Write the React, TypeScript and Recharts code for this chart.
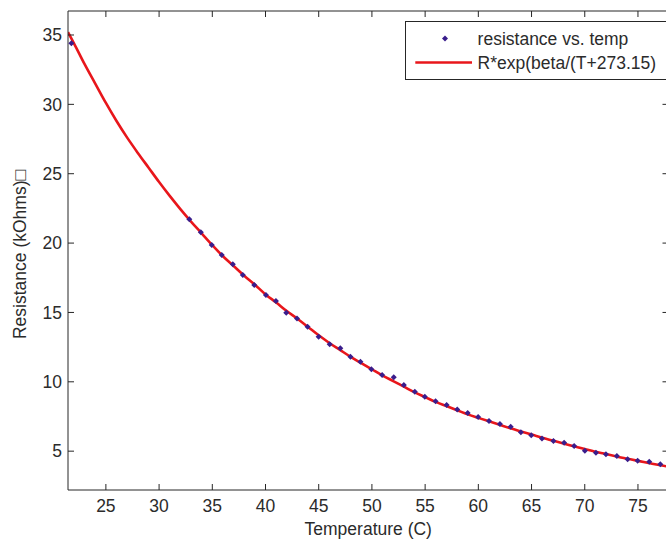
import React from 'react';
import { ComposedChart, Line, Scatter, XAxis, YAxis, Legend } from 'recharts';

const measTemps = [21.76, 32.84, 33.92, 34.95, 35.89, 36.93, 37.87, 38.94, 40.04, 40.98, 41.95, 42.96, 43.95, 44.99, 46.03, 47.03, 47.98, 48.92, 49.95, 50.96, 52.05, 53.0, 54.03, 54.97, 55.98, 57.02, 58.02, 59.0, 59.98, 61.0, 62.03, 63.04, 64.0, 64.97, 65.98, 67.06, 68.06, 69.0, 70.01, 71.05, 71.99, 73.02, 74.03, 74.97, 76.06, 77.1];
const measValues = [34.4, 21.71, 20.78, 19.86, 19.14, 18.47, 17.7, 16.98, 16.25, 15.82, 14.98, 14.57, 13.97, 13.25, 12.7, 12.41, 11.81, 11.45, 10.9, 10.49, 10.32, 9.77, 9.28, 8.92, 8.6, 8.32, 8.01, 7.75, 7.46, 7.17, 6.95, 6.76, 6.36, 6.14, 5.92, 5.73, 5.61, 5.37, 5.03, 4.88, 4.77, 4.65, 4.41, 4.31, 4.24, 4.05];

const fitTemps = [21.44, 22, 23, 24, 25, 26, 27, 28, 29, 30, 31, 32, 33, 34, 35, 36, 37, 38, 39, 40, 41, 42, 43, 44, 45, 46, 47, 48, 49, 50, 51, 52, 53, 54, 55, 56, 57, 58, 59, 60, 61, 62, 63, 64, 65, 66, 67, 68, 69, 70, 71, 72, 73, 74, 75, 76, 77, 77.9];
const fitValues = [35.2, 34.4, 32.9, 31.5, 30.1, 28.8, 27.6, 26.5, 25.45, 24.4, 23.4, 22.45, 21.55, 20.7, 19.85, 19.05, 18.35, 17.65, 17.0, 16.3, 15.72, 15.1, 14.55, 13.95, 13.35, 12.8, 12.3, 11.8, 11.35, 10.9, 10.45, 10.05, 9.65, 9.25, 8.9, 8.55, 8.25, 7.95, 7.65, 7.4, 7.15, 6.9, 6.65, 6.42, 6.2, 5.97, 5.76, 5.55, 5.35, 5.15, 4.96, 4.8, 4.62, 4.46, 4.3, 4.15, 4.0, 3.88];

const xTicks = [25, 30, 35, 40, 45, 50, 55, 60, 65, 70, 75];
const yTicks = [5, 10, 15, 20, 25, 30, 35];
const xDomain = [21.44, 77.87];
const yDomain = [2.2, 36.73];

const measData = measTemps.map((t, i) => ({ t, v: measValues[i] }));
const fitData = fitTemps.map((t, i) => ({ t, v: fitValues[i] }));

const FONT = '"Liberation Sans", Arial, Helvetica, sans-serif';
const AXIS = '#262626';
const TXT = '#2b2b2b';
const RED = '#e8161b';
const PURPLE = '#3a1d8c';
const W = 700;
const PLOT_TOP = 11;
const PLOT_RIGHT = 668.5;

const Diamond = (props: any) => {
  const { cx, cy } = props;
  if (cx == null || cy == null) return null;
  const r = 3;
  return <polygon points={`${cx},${cy - r} ${cx + r},${cy} ${cx},${cy + r} ${cx - r},${cy}`} fill={PURPLE} />;
};

const EmptyTick = () => <g />;

const BottomTick = (props: any) => {
  const { x, y, payload } = props;
  return (
    <g>
      <line x1={x} x2={x} y1={PLOT_TOP} y2={PLOT_TOP + 6} stroke={AXIS} strokeWidth={1} />
      <text x={x} y={y} dy="0.71em" textAnchor="middle" fontFamily={FONT} fontSize={17.5} fill={TXT}>
        {payload.value}
      </text>
    </g>
  );
};

const LegendBox = () => (
  <svg width={270} height={60} style={{ display: 'block' }}>
    <rect x={0.5} y={0.5} width={268} height={58} fill="#fff" stroke={AXIS} strokeWidth={1} />
    <polygon points="40,14.5 43,17.5 40,20.5 37,17.5" fill={PURPLE} />
    <text x={72.6} y={17.5} dominantBaseline="central" fontFamily={FONT} fontSize={17.5} fill={TXT}>resistance vs. temp</text>
    <line x1={10.3} x2={67} y1={41.6} y2={41.6} stroke={RED} strokeWidth={2.5} />
    <text x={72.6} y={41.6} dominantBaseline="central" fontFamily={FONT} fontSize={17.5} fill={TXT}>R*exp(beta/(T+273.15)</text>
  </svg>
);

const YLabel = (props: any) => {
  const vb = props.viewBox || {};
  const left = (vb.x ?? 0) + (vb.width ?? 68);
  const top = vb.y ?? PLOT_TOP;
  const cx = 20;
  const cy = top + (vb.height ?? 479) / 2 + 4;
  return (
    <g>
      <line x1={left} x2={PLOT_RIGHT} y1={top} y2={top} stroke={AXIS} strokeWidth={1} />
      <text x={cx} y={cy} transform={`rotate(-90, ${cx}, ${cy})`} textAnchor="middle" dominantBaseline="central" fontFamily={FONT} fontSize={17.5} fill={TXT}>
        Resistance (kOhms)□
      </text>
    </g>
  );
};

export default function App() {
  return (
    <div style={{ position: 'absolute', left: 0, top: 0, width: 666, height: 540, overflow: 'hidden', background: '#fff' }}>
      <ComposedChart width={W} height={540} margin={{ top: PLOT_TOP, right: W - 680.5, left: 0, bottom: 0 }}>
        <XAxis
          xAxisId="b"
          type="number"
          dataKey="t"
          domain={xDomain}
          ticks={xTicks}
          allowDataOverflow
          height={50}
          tickSize={-6}
          tickMargin={16}
          stroke={AXIS}
          tick={<BottomTick />}
          label={{ value: 'Temperature (C)', position: 'insideBottom', offset: 5, style: { fontFamily: FONT, fontSize: 17.5, fill: TXT } }}
        />
        <YAxis
          yAxisId="l"
          type="number"
          domain={yDomain}
          ticks={yTicks}
          allowDataOverflow
          width={68}
          tickSize={-6}
          tickMargin={12}
          stroke={AXIS}
          tick={{ fontFamily: FONT, fontSize: 17.5, fill: TXT }}
          label={<YLabel />}
        />
        <YAxis
          yAxisId="r"
          orientation="right"
          type="number"
          domain={yDomain}
          ticks={yTicks}
          allowDataOverflow
          width={12}
          tickSize={-6}
          tick={<EmptyTick />}
          stroke={AXIS}
        />
        <Scatter
          xAxisId="b"
          yAxisId="l"
          data={measData}
          dataKey="v"
          shape={<Diamond />}
          isAnimationActive={false}
          legendType="none"
        />
        <Line
          xAxisId="b"
          yAxisId="l"
          data={fitData}
          dataKey="v"
          type="monotone"
          stroke={RED}
          strokeWidth={2.6}
          dot={false}
          activeDot={false}
          isAnimationActive={false}
        />
        <Legend
          layout="vertical"
          align="center"
          verticalAlign="middle"
          content={() => <LegendBox />}
          wrapperStyle={{ position: 'absolute', left: 405, top: 21, width: 270, height: 60 }}
        />
      </ComposedChart>
    </div>
  );
}
